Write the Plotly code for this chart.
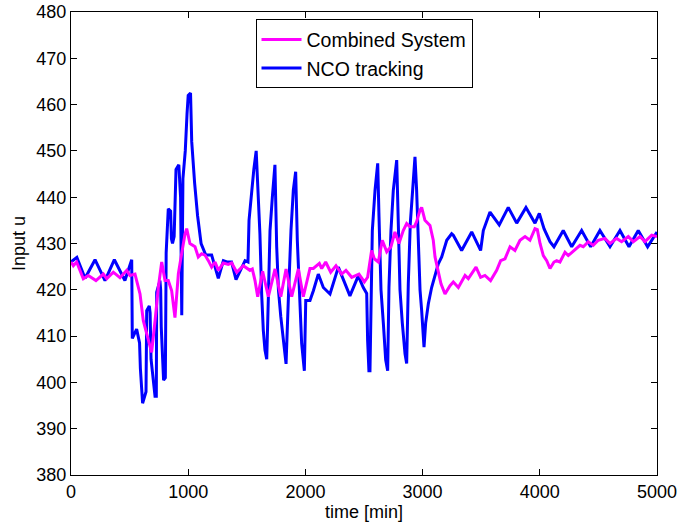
import plotly.graph_objects as go

# NCO tracking (blue)
nco_t = [0, 50, 120, 205, 290, 370, 460, 518, 523, 560, 585, 592, 611, 631, 640, 646, 668, 675, 683, 717, 728, 731,
         759, 765, 770, 790, 805, 812, 830, 850, 857, 866, 880, 896, 920, 935, 945, 955, 975, 990, 1000, 1020, 1030,
         1055, 1080, 1110, 1150, 1200, 1257, 1300, 1330, 1370, 1408, 1485, 1510, 1519, 1541, 1560, 1580, 1612, 1627,
         1641, 1655, 1670, 1684, 1698, 1718, 1740, 1755, 1770, 1790, 1812, 1835, 1855, 1877, 1897, 1917, 1931, 1948,
         1968, 1991, 2003, 2039, 2068, 2110, 2153, 2210, 2281, 2380, 2451, 2494, 2523, 2531, 2542, 2551, 2560, 2571,
         2594, 2617, 2628, 2645, 2665, 2685, 2702, 2713, 2730, 2750, 2779, 2793, 2807, 2827, 2850, 2864, 2878, 2895,
         2912, 2935, 2949, 2963, 2978, 2992, 3012, 3026, 3049, 3077, 3106, 3134, 3163, 3206, 3248, 3262, 3333, 3419,
         3495, 3518, 3575, 3654, 3731, 3803, 3882, 3959, 3996, 4036, 4087, 4121, 4200, 4272, 4357, 4434, 4513, 4599,
         4684, 4761, 4840, 4920, 5000]
nco_u = [426, 427, 422.5, 426.5, 422, 426.5, 422, 426.5, 409.5, 411.5, 408.5, 403, 395.5, 397.5, 398, 415.5, 416.5,
         415, 405, 397, 397, 419.5, 422, 420, 412, 400.5, 401, 428, 437.5, 437, 431, 430, 431.5, 446, 447, 440, 414.5,
         444, 450, 458, 462, 462.5, 452, 443, 436, 430, 427.5, 427.5, 422.5, 426.3, 426, 426, 422.2, 426.3, 426, 435,
         441.5, 446, 450, 432, 419, 411.2, 407, 405, 418.4, 432.8, 440, 447, 429.3, 420, 414.2, 408.4, 404, 418.4,
         432.8, 441.5, 445.5, 430.7, 418.4, 408.4, 402.5, 417.7, 417.7, 419.8, 423.4, 420.5, 419.1, 424.9, 418.7, 423,
         420.5, 419.2, 409, 402.5, 402.5, 420.5, 432.8, 441.5, 447.3, 435.8, 420, 412.8, 404.9, 402.5, 420.5, 432.8,
         441.5, 448, 436.5, 420, 412.8, 406.2, 404.1, 421.3, 434.3, 440.5, 448.7, 441.5, 430, 420, 415.5, 407.6, 412.8,
         417, 420.5, 423.4, 425.6, 427.1, 430.7, 432.1, 431.8, 428.5, 432.5, 428.5, 432.8, 436.8, 434, 437.8, 434.4,
         437.8, 434.4, 436.5, 433.2, 430.4, 429.3, 432.8, 429.3, 432.8, 429.3, 432.8, 429.3, 432.8, 429.3, 432.8,
         429.3, 432.5]

# Combined System (magenta)
comb_t = [0, 20, 48, 105, 148, 213, 276, 305, 361, 418, 475, 503, 546, 589, 617, 660, 688, 717, 745, 774, 802, 830,
          859, 887, 916, 944, 973, 987, 1015, 1058, 1086, 1115, 1143, 1172, 1200, 1229, 1257, 1300, 1342, 1371, 1414,
          1470, 1527, 1547, 1570, 1593, 1635, 1684, 1741, 1790, 1835, 1883, 1940, 1982, 2039, 2068, 2119, 2139, 2173,
          2216, 2261, 2310, 2346, 2395, 2457, 2503, 2531, 2565, 2588, 2622, 2656, 2694, 2730, 2764, 2798, 2835, 2864,
          2892, 2929, 2949, 2978, 2992, 3020, 3063, 3091, 3106, 3129, 3157, 3191, 3234, 3262, 3276, 3305, 3362, 3390,
          3456, 3495, 3532, 3580, 3632, 3666, 3703, 3746, 3788, 3831, 3874, 3916, 3959, 3979, 4002, 4030, 4059, 4087,
          4121, 4144, 4172, 4215, 4243, 4292, 4343, 4371, 4414, 4456, 4499, 4556, 4599, 4656, 4698, 4755, 4798, 4855,
          4897, 4955, 5000]
comb_u = [426, 425.2, 426, 422.4, 423.1, 422, 423.4, 422.4, 423.8, 422.6, 424.2, 423.1, 423.4, 419.1, 413.3, 409,
          406.5, 413.3, 420.5, 426, 422, 422, 419.8, 414, 423.5, 427.8, 432.1, 433.2, 430, 429.3, 427.1, 427.8, 427.5,
          426.3, 424.9, 426, 424.2, 425.8, 425.5, 425.8, 423.8, 425.2, 424.2, 424.5, 422, 418.5, 424, 418.5, 424.5,
          418.5, 424.5, 418.5, 424.5, 418.5, 424.6, 424.6, 425.7, 424.6, 426, 423.8, 425.2, 423.4, 424.2, 422.7,
          423.4, 421.7, 422.7, 428.5, 426.7, 426, 430.7, 428.2, 429.3, 432.5, 430, 432.8, 434.3, 433.6, 433.6, 434.7,
          437.2, 437.8, 435, 433.9, 430.7, 427.1, 424.2, 421.3, 419.1, 420.9, 421.7, 421.3, 420.5, 423.1, 422.4,
          424.9, 422.7, 423.1, 422, 424.2, 426.3, 426.7, 429.3, 428.5, 430.7, 431.5, 430.7, 433.2, 433, 430, 427.4,
          426.3, 424.6, 426, 426.3, 426, 428.1, 427.4, 428.5, 429.6, 429.3, 430.4, 429.6, 430.7, 431.1, 430, 431.1,
          430.4, 431.5, 430.4, 431.5, 430.4, 431.8, 431.5]

x_ticks = [0, 1000, 2000, 3000, 4000, 5000]
y_ticks = [380, 390, 400, 410, 420, 430, 440, 450, 460, 470, 480]

FONT = "Liberation Sans, Arial, sans-serif"

fig = go.Figure()
fig.add_trace(go.Scatter(x=nco_t, y=nco_u, mode="lines", name="NCO tracking",
                         line=dict(color="#0000FF", width=3)))
fig.add_trace(go.Scatter(x=comb_t, y=comb_u, mode="lines", name="Combined System",
                         line=dict(color="#FF00FF", width=3)))

axis_common = dict(showline=True, linecolor="black", linewidth=1, mirror="ticks",
                   ticks="inside", ticklen=6, tickcolor="black", showgrid=False, zeroline=False,
                   automargin=False, ticklabeloverflow="allow",
                   tickfont=dict(family=FONT, size=18, color="black"))

fig.update_layout(
    width=680, height=525,
    margin=dict(l=71, r=23, t=12, b=50),
    paper_bgcolor="white", plot_bgcolor="white",
    font=dict(family=FONT, size=18, color="black"),
    showlegend=True,
    legend=dict(x=0.5, xanchor="center", y=0.984, yanchor="top", traceorder="reversed",
                bgcolor="white", bordercolor="black", borderwidth=1,
                font=dict(family=FONT, size=19.5, color="black"),
                tracegroupgap=0, itemwidth=40),
    xaxis=dict(range=[0, 5000], tickvals=x_ticks, ticktext=[str(v) for v in x_ticks],
               ticklabelstandoff=0,
               title=dict(text="time [min]", standoff=0, font=dict(family=FONT, size=18)),
               **axis_common),
    yaxis=dict(range=[380, 480], tickvals=y_ticks, ticktext=[str(v) for v in y_ticks],
               title=dict(text="Input u", standoff=6, font=dict(family=FONT, size=18)),
               **axis_common),
)

fig.write_html("out.html", config={"displayModeBar": False},
               post_script="document.body.style.margin='0px';")
